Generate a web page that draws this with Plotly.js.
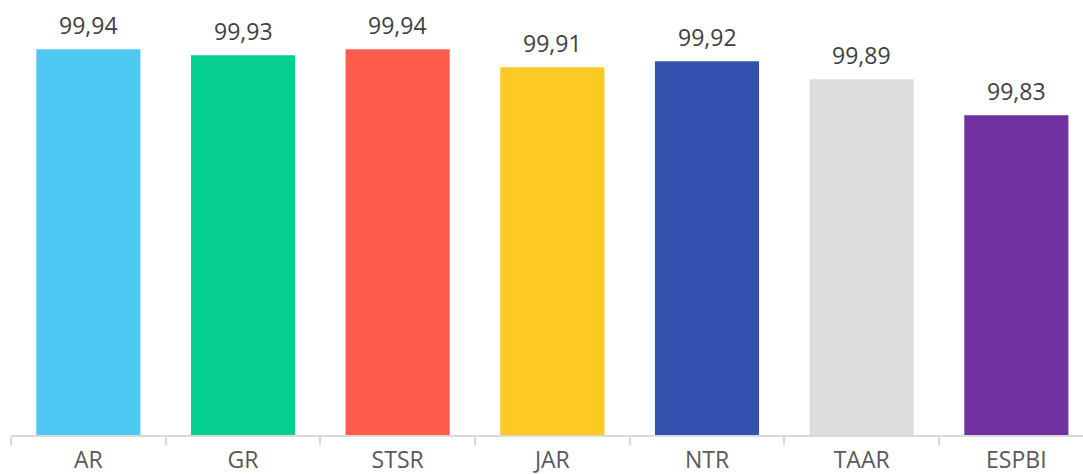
<!DOCTYPE html>
<html>
<head>
<meta charset="utf-8">
<script src="https://cdn.plot.ly/plotly-3.0.1.min.js"></script>
<style>html,body{margin:0;padding:0;background:#fff;}#chart{width:1083px;height:474px;}</style>
</head>
<body>
<div id="chart"></div>
<script>
const categories = ["AR", "GR", "STSR", "JAR", "NTR", "TAAR", "ESPBI"];
const values = [99.94, 99.93, 99.94, 99.91, 99.92, 99.89, 99.83];
const valueLabels = ["99,94", "99,93", "99,94", "99,91", "99,92", "99,89", "99,83"];
const barColors = ["#4FC9F3", "#05CF8F", "#FE5B4A", "#FDC923", "#3352B0", "#DDDDDD", "#7030A0"];

const axisBase = 99.297;

const trace = {
  type: "bar",
  x: categories,
  y: values.map(v => v - axisBase),
  base: axisBase,
  marker: {color: barColors, line: {width: 0}},
  hoverinfo: "none"
};

const annotations = categories.map((c, i) => ({
  x: c, y: values[i], xref: "x", yref: "y",
  text: valueLabels[i], showarrow: false,
  yanchor: "bottom", yshift: 6,
  font: {family: "Open Sans", size: 23, color: "#404040"}
}));

const layout = {
  width: 1083, height: 474,
  margin: {l: 11, r: 0, t: 0, b: 39, pad: 0},
  paper_bgcolor: "#ffffff", plot_bgcolor: "#ffffff",
  showlegend: false,
  bargap: 0.327,
  xaxis: {
    type: "category",
    range: [-0.5, 6.431],
    showline: true, linecolor: "#d9d9d9", linewidth: 2,
    ticks: "outside", tickson: "boundaries", ticklen: 8, tickwidth: 2, tickcolor: "#d9d9d9",
    ticklabelstandoff: 3,
    showgrid: false, zeroline: false,
    tickfont: {family: "Open Sans", size: 23, color: "#595959"},
    fixedrange: true
  },
  yaxis: {
    visible: false,
    range: [axisBase, 100.022],
    showgrid: false, zeroline: false, fixedrange: true
  },
  annotations: annotations
};

Plotly.newPlot("chart", [trace], layout, {displayModeBar: false, staticPlot: true});
</script>
</body>
</html>
